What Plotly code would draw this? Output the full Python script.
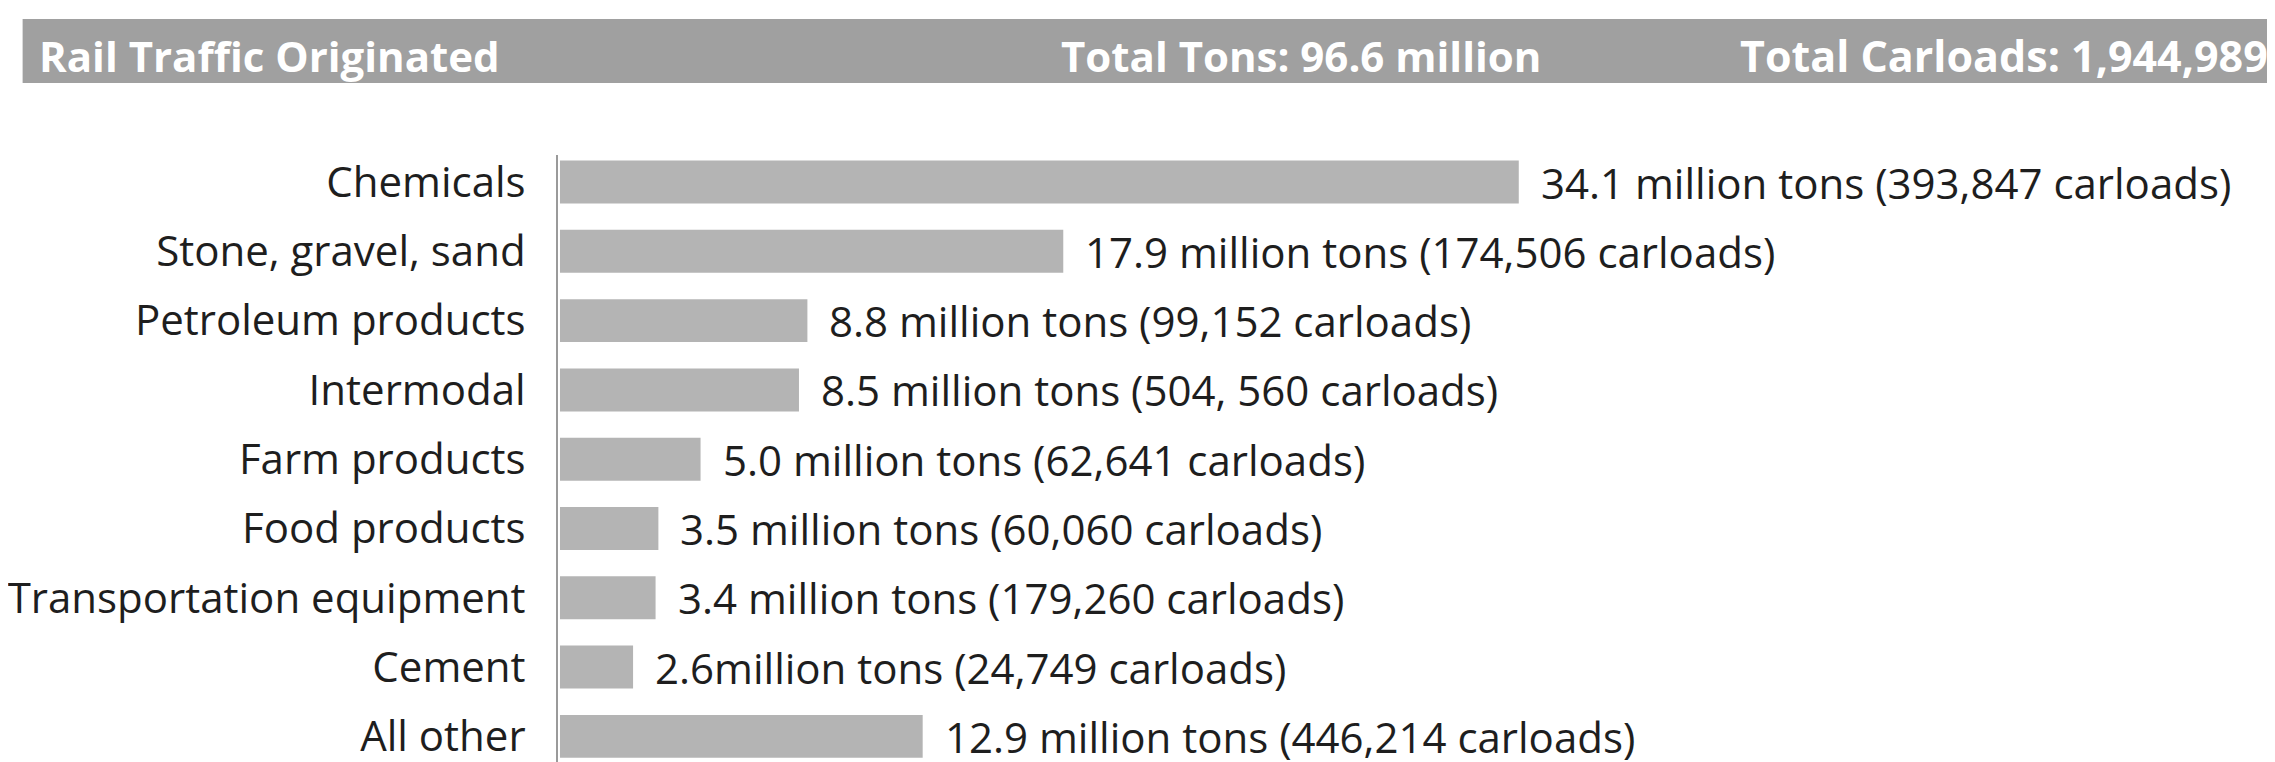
import plotly.graph_objects as go

categories = ["Chemicals", "Stone, gravel, sand", "Petroleum products", "Intermodal",
              "Farm products", "Food products", "Transportation equipment", "Cement", "All other"]
tons_million = [34.1, 17.9, 8.8, 8.5, 5.0, 3.5, 3.4, 2.6, 12.9]
value_labels = [
    "34.1 million tons (393,847 carloads)",
    "17.9 million tons (174,506 carloads)",
    "8.8 million tons (99,152 carloads)",
    "8.5 million tons (504, 560 carloads)",
    "5.0 million tons (62,641 carloads)",
    "3.5 million tons (60,060 carloads)",
    "3.4 million tons (179,260 carloads)",
    "2.6million tons (24,749 carloads)",
    "12.9 million tons (446,214 carloads)",
]
header_title = "Rail Traffic Originated"
header_tons = "Total Tons: 96.6 million"
header_carloads = "Total Carloads: 1,944,989"

W, H = 2275, 762
ML, MT = 548, 147
PW, PH = W - ML, H - MT

FONT = "Open Sans"
TEXT_COLOR = "#1e1e1e"
BAR_COLOR = "#b4b4b4"
HEAD_COLOR = "#a0a0a0"

fig = go.Figure()
fig.add_trace(go.Bar(
    x=tons_million, y=categories, orientation="h",
    marker=dict(color=BAR_COLOR, line=dict(width=0)),
    hoverinfo="skip",
))

for v, c, t in zip(tons_million, categories, value_labels):
    fig.add_annotation(x=v, y=c, text=t, xanchor="left", yanchor="middle",
                       xshift=20, showarrow=False,
                       font=dict(family=FONT, size=42, color=TEXT_COLOR))

def px_x(p):
    return (p - ML) / PW

def px_y(p):
    return (H - p) / PH

fig.add_shape(type="rect", xref="paper", yref="paper",
              x0=px_x(12), x1=px_x(2275), y0=px_y(75), y1=px_y(11),
              fillcolor=HEAD_COLOR, line=dict(width=0), layer="below")

hfont = dict(family=FONT, size=42, color="white")
fig.add_annotation(xref="paper", yref="paper", x=px_x(26), y=px_y(47),
                   xanchor="left", yanchor="middle", text="<b>%s</b>" % header_title,
                   showarrow=False, font=hfont)
fig.add_annotation(xref="paper", yref="paper", x=px_x(1050), y=px_y(47),
                   xanchor="left", yanchor="middle", text="<b>%s</b>" % header_tons,
                   showarrow=False, font=hfont)
fig.add_annotation(xref="paper", yref="paper", x=px_x(2262), y=px_y(47),
                   xanchor="right", yanchor="middle", text="<b>%s</b>" % header_carloads,
                   showarrow=False, font=dict(family=FONT, size=43, color="white"))

fig.update_layout(
    width=W, height=H,
    margin=dict(l=ML, r=0, t=MT, b=0, pad=0),
    paper_bgcolor="white", plot_bgcolor="white",
    bargap=0.38, showlegend=False,
    font=dict(family=FONT, size=42, color=TEXT_COLOR),
)
fig.update_xaxes(range=[-0.07, 61.28], visible=False, showgrid=False, zeroline=False)
fig.update_yaxes(type="category", categoryorder="array", categoryarray=categories,
                 range=[8.485, -0.39], showgrid=False, zeroline=False,
                 showline=True, linecolor="#9a9a9a", linewidth=2,
                 ticks="", ticklabelstandoff=22,
                 tickfont=dict(family=FONT, size=42, color=TEXT_COLOR))

fig.write_html("out.html")
